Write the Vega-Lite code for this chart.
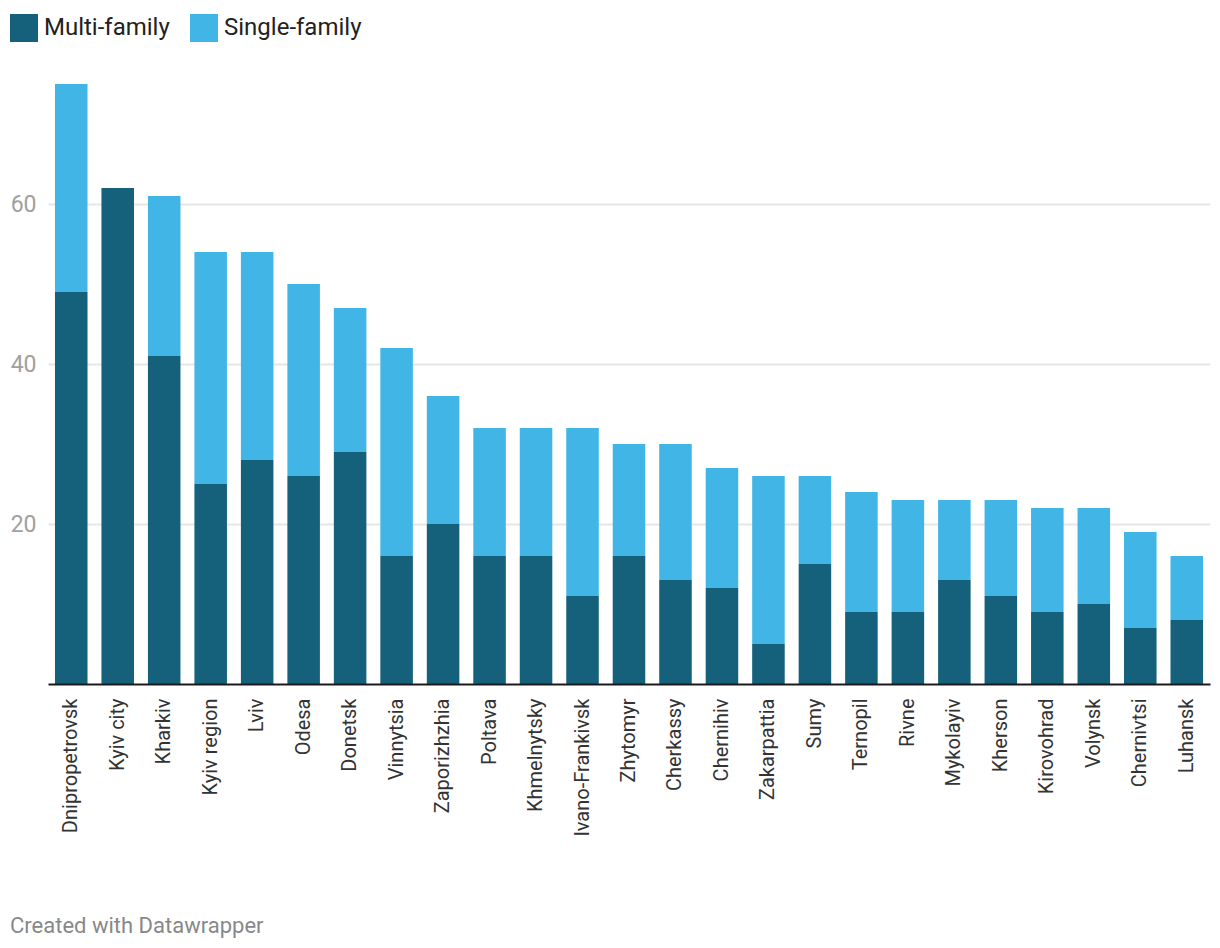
{
  "$schema": "https://vega.github.io/schema/vega-lite/v6.json",
  "width": 1162,
  "height": 600,
  "autosize": {"type": "none"},
  "padding": {"left": 48, "top": 84, "right": 10, "bottom": 264},
  "background": "#ffffff",
  "config": {
    "font": "Roboto",
    "view": {"stroke": null}
  },
  "title": {
    "text": "Created with Datawrapper",
    "orient": "bottom",
    "anchor": "start",
    "frame": "bounds",
    "fontSize": 22,
    "fontWeight": "normal",
    "color": "#888888",
    "font": "Roboto",
    "offset": 80
  },
  "data": {
    "values": [
      {"region": "Dnipropetrovsk", "type": "Multi-family", "value": 49},
      {"region": "Dnipropetrovsk", "type": "Single-family", "value": 26},
      {"region": "Kyiv city", "type": "Multi-family", "value": 62},
      {"region": "Kyiv city", "type": "Single-family", "value": 0},
      {"region": "Kharkiv", "type": "Multi-family", "value": 41},
      {"region": "Kharkiv", "type": "Single-family", "value": 20},
      {"region": "Kyiv region", "type": "Multi-family", "value": 25},
      {"region": "Kyiv region", "type": "Single-family", "value": 29},
      {"region": "Lviv", "type": "Multi-family", "value": 28},
      {"region": "Lviv", "type": "Single-family", "value": 26},
      {"region": "Odesa", "type": "Multi-family", "value": 26},
      {"region": "Odesa", "type": "Single-family", "value": 24},
      {"region": "Donetsk", "type": "Multi-family", "value": 29},
      {"region": "Donetsk", "type": "Single-family", "value": 18},
      {"region": "Vinnytsia", "type": "Multi-family", "value": 16},
      {"region": "Vinnytsia", "type": "Single-family", "value": 26},
      {"region": "Zaporizhzhia", "type": "Multi-family", "value": 20},
      {"region": "Zaporizhzhia", "type": "Single-family", "value": 16},
      {"region": "Poltava", "type": "Multi-family", "value": 16},
      {"region": "Poltava", "type": "Single-family", "value": 16},
      {"region": "Khmelnytsky", "type": "Multi-family", "value": 16},
      {"region": "Khmelnytsky", "type": "Single-family", "value": 16},
      {"region": "Ivano-Frankivsk", "type": "Multi-family", "value": 11},
      {"region": "Ivano-Frankivsk", "type": "Single-family", "value": 21},
      {"region": "Zhytomyr", "type": "Multi-family", "value": 16},
      {"region": "Zhytomyr", "type": "Single-family", "value": 14},
      {"region": "Cherkassy", "type": "Multi-family", "value": 13},
      {"region": "Cherkassy", "type": "Single-family", "value": 17},
      {"region": "Chernihiv", "type": "Multi-family", "value": 12},
      {"region": "Chernihiv", "type": "Single-family", "value": 15},
      {"region": "Zakarpattia", "type": "Multi-family", "value": 5},
      {"region": "Zakarpattia", "type": "Single-family", "value": 21},
      {"region": "Sumy", "type": "Multi-family", "value": 15},
      {"region": "Sumy", "type": "Single-family", "value": 11},
      {"region": "Ternopil", "type": "Multi-family", "value": 9},
      {"region": "Ternopil", "type": "Single-family", "value": 15},
      {"region": "Rivne", "type": "Multi-family", "value": 9},
      {"region": "Rivne", "type": "Single-family", "value": 14},
      {"region": "Mykolayiv", "type": "Multi-family", "value": 13},
      {"region": "Mykolayiv", "type": "Single-family", "value": 10},
      {"region": "Kherson", "type": "Multi-family", "value": 11},
      {"region": "Kherson", "type": "Single-family", "value": 12},
      {"region": "Kirovohrad", "type": "Multi-family", "value": 9},
      {"region": "Kirovohrad", "type": "Single-family", "value": 13},
      {"region": "Volynsk", "type": "Multi-family", "value": 10},
      {"region": "Volynsk", "type": "Single-family", "value": 12},
      {"region": "Chernivtsi", "type": "Multi-family", "value": 7},
      {"region": "Chernivtsi", "type": "Single-family", "value": 12},
      {"region": "Luhansk", "type": "Multi-family", "value": 8},
      {"region": "Luhansk", "type": "Single-family", "value": 8}
    ]
  },
  "mark": {"type": "bar"},
  "encoding": {
    "x": {
      "field": "region",
      "type": "nominal",
      "sort": ["Dnipropetrovsk", "Kyiv city", "Kharkiv", "Kyiv region", "Lviv", "Odesa", "Donetsk", "Vinnytsia", "Zaporizhzhia", "Poltava", "Khmelnytsky", "Ivano-Frankivsk", "Zhytomyr", "Cherkassy", "Chernihiv", "Zakarpattia", "Sumy", "Ternopil", "Rivne", "Mykolayiv", "Kherson", "Kirovohrad", "Volynsk", "Chernivtsi", "Luhansk"],
      "scale": {"paddingInner": 0.3, "paddingOuter": 0.15},
      "axis": {
        "title": null,
        "labelAngle": -90,
        "labelAlign": "right",
        "labelBaseline": "middle",
        "labelFontSize": 20,
        "labelColor": "#333333",
        "labelPadding": 14,
        "ticks": false,
        "domain": true,
        "domainColor": "#1a1a1a",
        "domainWidth": 2,
        "grid": false,
        "zindex": 1
      }
    },
    "y": {
      "field": "value",
      "type": "quantitative",
      "stack": "zero",
      "scale": {"domain": [0, 75], "nice": false},
      "axis": {
        "title": null,
        "values": [20, 40, 60],
        "domain": false,
        "ticks": false,
        "labelFontSize": 23,
        "labelColor": "#a0a0a0",
        "labelPadding": 12,
        "grid": true,
        "gridColor": "#e6e6e6",
        "gridWidth": 2
      }
    },
    "color": {
      "field": "type",
      "type": "nominal",
      "scale": {"domain": ["Multi-family", "Single-family"], "range": ["#15607a", "#41b6e6"]},
      "legend": {
        "title": null,
        "orient": "none",
        "direction": "horizontal",
        "legendX": -38,
        "legendY": -70,
        "padding": 0,
        "symbolType": "square",
        "symbolSize": 784,
        "symbolStrokeWidth": 0,
        "symbolOpacity": 1,
        "labelFontSize": 24,
        "labelColor": "#222222",
        "labelOffset": 6,
        "columnPadding": 20
      }
    },
    "order": {"field": "type", "sort": "ascending"}
  }
}
